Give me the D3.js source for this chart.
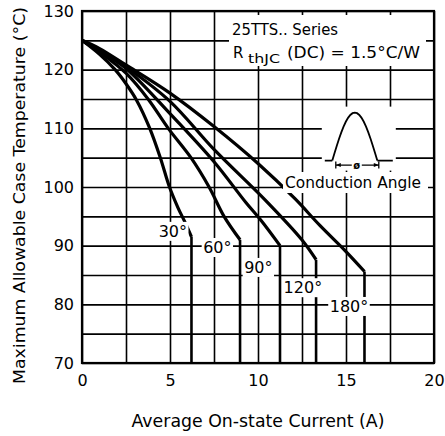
<!DOCTYPE html>
<html>
<head>
<meta charset="utf-8">
<script src="https://cdn.jsdelivr.net/npm/d3@7"></script>
<style>
  body { margin: 0; background: #fff; }
  svg { display: block; }
  text { font-family: "DejaVu Sans", sans-serif; fill: #000; }
</style>
</head>
<body>
<div id="chart"></div>
<script>
// chart values
const angles = ['30°', '60°', '90°', '120°', '180°'];

const current30 = [0, 1, 1.88, 2.5, 3.1, 3.85, 4.45, 4.97, 5.45, 5.85, 6.22, 6.22];
const temp30 = [125, 122.6, 120, 117.6, 114.8, 110, 105, 100, 96.5, 94, 91.5, 70];

const current60 = [0, 1, 2.5, 3.75, 4.9, 6.19, 7.22, 8.07, 8.98, 8.98];
const temp60 = [125, 123, 119.4, 115, 110, 105, 100, 95, 91, 70];

const current90 = [0, 1, 2.5, 5, 7.5, 9.3, 10.2, 11.25, 11.25];
const temp90 = [125, 123.2, 120.2, 112.5, 104.3, 97.4, 94.2, 90, 70];

const current120 = [0, 1, 2.5, 5, 7.5, 10.4, 12.49, 13.3, 13.3];
const temp120 = [125, 123.4, 120.5, 114.6, 106.4, 97.8, 91, 87.6, 70];

const current180 = [0, 1, 2.5, 5, 7.5, 10, 12.1, 13.5, 15, 16.05, 16.05];
const temp180 = [125, 123.6, 120.8, 116, 110.3, 104, 98, 93.5, 89, 85.6, 70];

const xGrid = [0, 2.5, 5, 7.5, 10, 12.5, 15, 17.5, 20];
const yGrid = [70, 75, 80, 85, 90, 95, 100, 105, 110, 115, 120, 125, 130];
const xTicks = [0, 5, 10, 15, 20];
const yTicks = [70, 80, 90, 100, 110, 120, 130];

// where the angle labels sit (text centre x, baseline y), in data units
const labelSpots = [[5.16, 91.5], [7.69, 88.75], [10.02, 85.35], [12.55, 81.9], [15.17, 78.7]];

const width = 445, height = 436;

let x = d3.scaleLinear().domain([0, 20]).range([82, 434]);
let y = d3.scaleLinear().domain([70, 130]).range([363, 11]);

let svg = d3.select('#chart').append('svg')
    .attr('width', width)
    .attr('height', height);

// grid
svg.append('g')
    .attr('transform', `translate(0, ${y(70)})`)
    .call(d3.axisBottom(x).tickValues(xGrid).tickSize(y(130) - y(70)).tickFormat(''))
    .call(g => g.select('.domain').remove())
    .call(g => g.selectAll('line').attr('stroke', '#000').attr('stroke-width', 1.6));

svg.append('g')
    .attr('transform', `translate(${x(0)}, 0)`)
    .call(d3.axisLeft(y).tickValues(yGrid).tickSize(x(0) - x(20)).tickFormat(''))
    .call(g => g.select('.domain').remove())
    .call(g => g.selectAll('line').attr('stroke', '#000').attr('stroke-width', 1.6));

// curves
let series = [
    {angle: angles[0], current: current30, temp: temp30},
    {angle: angles[1], current: current60, temp: temp60},
    {angle: angles[2], current: current90, temp: temp90},
    {angle: angles[3], current: current120, temp: temp120},
    {angle: angles[4], current: current180, temp: temp180}
];

let curve = d3.line()
    .x(d => x(d[0]))
    .y(d => y(d[1]))
    .curve(d3.curveCatmullRom.alpha(0.5));

let drop = d3.line()
    .x(d => x(d[0]))
    .y(d => y(d[1]));

series.forEach((s) => {
    let pts = s.current.map((c, i) => [c, s.temp[i]]);
    svg.append('path')
        .attr('d', curve(pts.slice(0, -1)))
        .attr('fill', 'none')
        .attr('stroke', '#000')
        .attr('stroke-width', 3.2)
        .attr('stroke-linejoin', 'round');
    svg.append('path')
        .attr('d', drop(pts.slice(-2)))
        .attr('fill', 'none')
        .attr('stroke', '#000')
        .attr('stroke-width', 2.6);
});

// angle labels with white backing
series.forEach((s, i) => {
    let g = svg.append('g');
    let t = g.append('text')
        .attr('x', x(labelSpots[i][0]))
        .attr('y', y(labelSpots[i][1]))
        .attr('text-anchor', 'middle')
        .attr('font-size', 16)
        .text(s.angle);
    let b = t.node().getBBox();
    g.insert('rect', 'text')
        .attr('x', b.x - 1.5)
        .attr('y', b.y)
        .attr('width', b.width + 3)
        .attr('height', b.height)
        .attr('fill', '#fff');
});

// series box
svg.append('rect')
    .attr('x', 229).attr('y', 15)
    .attr('width', 197).attr('height', 51)
    .attr('fill', '#fff');
svg.append('text')
    .attr('x', 232).attr('y', 35)
    .attr('font-size', 15)
    .attr('textLength', 106)
    .attr('lengthAdjust', 'spacingAndGlyphs')
    .text('25TTS.. Series');
svg.append('text')
    .attr('x', 233).attr('y', 58)
    .attr('font-size', 15)
    .text('R');
svg.append('text')
    .attr('x', 248).attr('y', 63)
    .attr('font-size', 13)
    .attr('textLength', 32)
    .attr('lengthAdjust', 'spacingAndGlyphs')
    .text('thJC');
svg.append('text')
    .attr('x', 287).attr('y', 58)
    .attr('font-size', 15)
    .attr('textLength', 133)
    .attr('lengthAdjust', 'spacingAndGlyphs')
    .text('(DC) = 1.5°C/W');

// conduction angle icon
let cx = x(15.5), by = y(104.5);
svg.append('rect')
    .attr('x', cx - 33).attr('y', y(113.7))
    .attr('width', 74).attr('height', by + 10 - y(113.7))
    .attr('fill', '#fff');
let icon = svg.append('g')
    .attr('transform', `translate(${cx}, ${by})`)
    .attr('fill', 'none')
    .attr('stroke', '#000')
    .attr('stroke-width', 1.8);
let hump = d3.range(0, 1.0001, 0.05).map(t => [-22.5 + 45 * t, -48 * Math.sin(Math.PI * t)]);
icon.append('path').attr('d', d3.line()(hump));
icon.append('path').attr('d', 'M-30,0H-22.5M22.5,0H38');
icon.append('path').attr('d', 'M-19,1V8M24,1V8M-19,4.5H-3M7,4.5H24').attr('stroke-width', 1.3);
icon.append('path').attr('d', 'M-19,4.5l5,-2v4zM24,4.5l-5,-2v4z').attr('fill', '#000').attr('stroke', 'none');
svg.append('text')
    .attr('x', cx + 2).attr('y', by + 8.5)
    .attr('text-anchor', 'middle')
    .attr('font-size', 10)
    .attr('font-weight', 'bold')
    .text('ø');

svg.append('rect')
    .attr('x', 283).attr('y', 172)
    .attr('width', 145).attr('height', 21)
    .attr('fill', '#fff');
svg.append('text')
    .attr('x', 285).attr('y', 188)
    .attr('font-size', 15)
    .attr('textLength', 136)
    .attr('lengthAdjust', 'spacingAndGlyphs')
    .text('Conduction Angle');

// frame
svg.append('rect')
    .attr('x', x(0)).attr('y', y(130))
    .attr('width', x(20) - x(0)).attr('height', y(70) - y(130))
    .attr('fill', 'none')
    .attr('stroke', '#000')
    .attr('stroke-width', 2.2);

// tick labels
svg.append('g')
    .attr('transform', `translate(0, ${y(70)})`)
    .call(d3.axisBottom(x).tickValues(xTicks).tickSize(0).tickPadding(12))
    .call(g => g.select('.domain').remove())
    .call(g => g.selectAll('text').attr('font-size', 16).attr('font-family', '"DejaVu Sans", sans-serif'));

svg.append('g')
    .attr('transform', `translate(${x(0)}, 0)`)
    .call(d3.axisLeft(y).tickValues(yTicks).tickSize(0).tickPadding(8))
    .call(g => g.select('.domain').remove())
    .call(g => g.selectAll('text').attr('font-size', 16).attr('font-family', '"DejaVu Sans", sans-serif'));

// axis titles
svg.append('text')
    .attr('x', 258).attr('y', 427)
    .attr('text-anchor', 'middle')
    .attr('font-size', 17)
    .attr('textLength', 253)
    .attr('lengthAdjust', 'spacingAndGlyphs')
    .text('Average On-state Current (A)');

svg.append('text')
    .attr('transform', 'translate(25, 195.5) rotate(-90)')
    .attr('text-anchor', 'middle')
    .attr('font-size', 16)
    .attr('textLength', 377)
    .attr('lengthAdjust', 'spacingAndGlyphs')
    .text('Maximum Allowable Case Temperature (°C)');
</script>
</body>
</html>
